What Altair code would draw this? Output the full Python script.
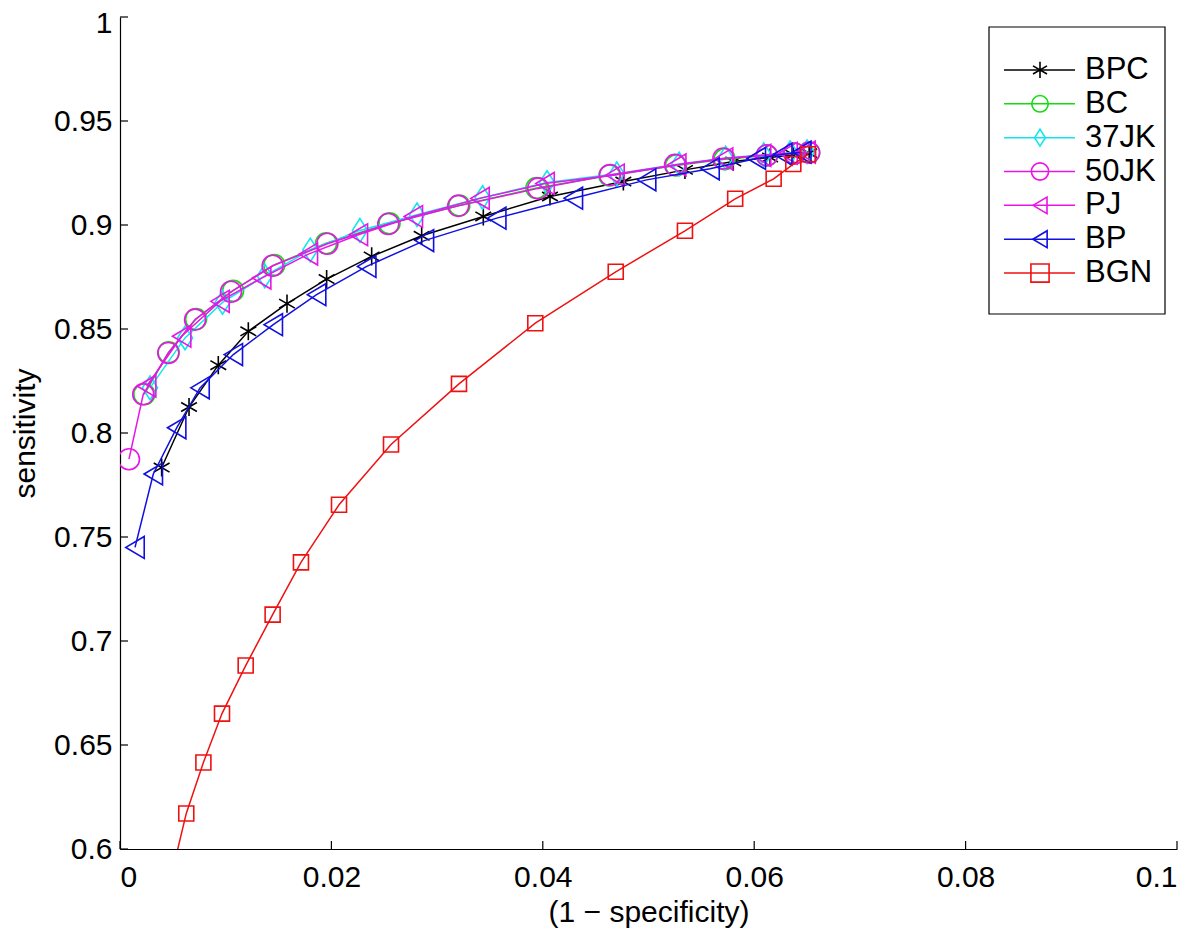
import altair as alt
import pandas as pd

FONT = "Liberation Sans"

# ---------------- data ----------------
series_names = ["BPC", "BC", "37JK", "50JK", "PJ", "BP", "BGN"]
series_colors = ["#000000", "#11dd11", "#11e6ee", "#e616e6", "#e616e6", "#1010e0", "#ee1111"]

bpc_x = [0.00394, 0.00653, 0.0093, 0.01214, 0.0158, 0.01955, 0.02381, 0.02854, 0.03437,
         0.04068, 0.04762, 0.05345, 0.05802, 0.0615, 0.0637, 0.0652]
bpc_y = [0.7834, 0.8125, 0.8326, 0.8489, 0.8622, 0.874, 0.8849, 0.8948, 0.9041,
         0.9137, 0.9209, 0.9265, 0.9305, 0.9325, 0.9338, 0.9345]

bc_x = [0.0023, 0.0046, 0.0072, 0.0107, 0.0146, 0.0195, 0.0255, 0.0321, 0.0394,
        0.0463, 0.0526, 0.0572, 0.0612, 0.0638, 0.0652]
bc_y = [0.8186, 0.8388, 0.8548, 0.8684, 0.8808, 0.8912, 0.9008, 0.9094, 0.9178,
        0.9238, 0.9286, 0.9316, 0.9334, 0.9344, 0.9348]

jk37_x = [0.00284, 0.00615, 0.0097, 0.0137, 0.018, 0.0227, 0.0281, 0.0343, 0.0404,
          0.0470, 0.0529, 0.0573, 0.0609, 0.0634, 0.0650]
jk37_y = [0.8217, 0.8457, 0.8628, 0.8755, 0.888, 0.8974, 0.9049, 0.9132, 0.9204,
          0.9246, 0.9293, 0.9322, 0.9338, 0.9347, 0.9352]

jk50_x = [0.00085, 0.0022, 0.00457, 0.0071, 0.0105, 0.01444, 0.01962, 0.02538, 0.032,
          0.03957, 0.04636, 0.05251, 0.05708, 0.0612, 0.0638, 0.0652]
jk50_y = [0.7874, 0.8186, 0.8385, 0.8545, 0.8679, 0.8804, 0.891, 0.9005, 0.9092,
          0.9176, 0.924, 0.9289, 0.932, 0.9335, 0.9344, 0.9348]

pj_x = [0.00252, 0.00583, 0.00946, 0.0134, 0.01782, 0.02255, 0.02775, 0.03406, 0.04021,
        0.04683, 0.05267, 0.0571, 0.0607, 0.0632, 0.0649]
pj_y = [0.8225, 0.8465, 0.8633, 0.8745, 0.886, 0.8953, 0.9041, 0.9128, 0.92,
        0.924, 0.9289, 0.9318, 0.9335, 0.9345, 0.935]

bp_x = [0.00142, 0.00315, 0.00536, 0.00757, 0.01072, 0.0145, 0.0186, 0.02334, 0.0288,
        0.03564, 0.04289, 0.04982, 0.05582, 0.0602, 0.0627, 0.0645]
bp_y = [0.745, 0.7803, 0.8025, 0.8217, 0.8377, 0.8521, 0.8665, 0.8801, 0.8925,
        0.9033, 0.9129, 0.9217, 0.927, 0.932, 0.934, 0.935]

bgn_x = [0.0051, 0.00627, 0.00789, 0.00965, 0.01189, 0.01444, 0.01712, 0.02072, 0.02564,
         0.03207, 0.03929, 0.0469, 0.05345, 0.0582, 0.06184, 0.0637, 0.0651]
bgn_y = [0.5923, 0.6171, 0.6416, 0.6651, 0.6882, 0.7127, 0.7378, 0.7655, 0.7945,
         0.8236, 0.8528, 0.8775, 0.8972, 0.9126, 0.9222, 0.9293, 0.934]

x_ticks = [0, 0.02, 0.04, 0.06, 0.08, 0.1]
y_ticks = [0.6, 0.65, 0.7, 0.75, 0.8, 0.85, 0.9, 0.95, 1.0]

series_x = [bpc_x, bc_x, jk37_x, jk50_x, pj_x, bp_x, bgn_x]
series_y = [bpc_y, bc_y, jk37_y, jk50_y, pj_y, bp_y, bgn_y]

# ---------------- styles ----------------
ASTER = "M0,-1L0,1M-0.87,-0.5L0.87,0.5M-0.87,0.5L0.87,-0.5"
DIAM = "M0,-1L0.64,0L0,1L-0.64,0Z"
TRI_L = "M-0.8,0L0.8,-0.95L0.8,0.95Z"
shapes = [ASTER, "circle", DIAM, "circle", TRI_L, TRI_L, "square"]
sizes = [330, 440, 560, 440, 530, 530, 225]
legend_sizes = [260, 330, 440, 330, 420, 420, 190]

W, H = 1057, 832

rows = []
for name, xs_, ys_ in zip(series_names, series_x, series_y):
    for i, (a, b) in enumerate(zip(xs_, ys_)):
        rows.append({"series": name, "i": i, "x": a, "y": b})
df = pd.DataFrame(rows)

x_enc = alt.X("x:Q", scale=alt.Scale(domain=[0, 0.1], nice=False, zero=False),
              axis=alt.Axis(values=x_ticks, format="~g", title="(1 − specificity)",
                            labelPadding=13, titleY=63, titleBaseline="middle"))
y_enc = alt.Y("y:Q", scale=alt.Scale(domain=[0.6, 1.0], nice=False, zero=False),
              axis=alt.Axis(values=y_ticks, format="~g", title="sensitivity",
                            labelPadding=8,
                            labelOffset={"condition": {"test": "datum.value >= 1", "value": 6}, "value": 0},
                            titleX=-95, titleY=H / 2, titleAngle=270,
                            titleAlign="center", titleBaseline="middle"))

layers = []
for name, col, shp, sz in zip(series_names, series_colors, shapes, sizes):
    base = alt.Chart(df).transform_filter(alt.datum.series == name)
    layers.append(base.mark_line(color=col, strokeWidth=1.5, clip=True).encode(
        x=x_enc, y=y_enc, order=alt.Order("i:Q")))
    layers.append(base.mark_point(shape=shp, size=sz, filled=False, color=col,
                                  strokeWidth=1.6, opacity=1, clip=True).encode(x=x_enc, y=y_enc))

# inward tick marks
xt = alt.Chart(pd.DataFrame({"x": x_ticks})).mark_rule(color="black", strokeWidth=1.2).encode(
    x=x_enc, y=alt.value(H), y2=alt.value(H - 8))
yt = alt.Chart(pd.DataFrame({"y": y_ticks})).mark_rule(color="black", strokeWidth=1.2).encode(
    y=y_enc, x=alt.value(0), x2=alt.value(8))
layers += [xt, yt]

main = alt.layer(*layers)

# ---------------- legend ----------------
leg_df = pd.DataFrame({"name": series_names})
ly = alt.Y("name:N", scale=alt.Scale(domain=series_names, range=[36, 273], padding=0), axis=None)
lc = alt.Color("name:N", scale=alt.Scale(domain=series_names, range=series_colors), legend=None)
box = alt.Chart(pd.DataFrame({"a": [0]})).mark_rect(fill="white", stroke="black", strokeWidth=1.2).encode(
    x=alt.value(869), x2=alt.value(1045), y=alt.value(10), y2=alt.value(297))
lline = alt.Chart(leg_df).mark_rule(strokeWidth=1.5).encode(
    x=alt.value(884), x2=alt.value(955), y=ly, color=lc)
lpts = alt.Chart(leg_df).mark_point(filled=False, strokeWidth=1.6, opacity=1).encode(
    x=alt.value(920), y=ly, color=lc,
    shape=alt.Shape("name:N", scale=alt.Scale(domain=series_names, range=shapes), legend=None),
    size=alt.Size("name:N", scale=alt.Scale(domain=series_names, range=legend_sizes), legend=None))
ltxt = alt.Chart(leg_df).mark_text(align="left", baseline="middle", fontSize=31, font=FONT, color="black").encode(
    x=alt.value(965), y=ly, text="name:N")
legend = alt.layer(box, lline, lpts, ltxt)

chart = alt.layer(main, legend).resolve_scale(y="independent").properties(
    width=W, height=H,
    autosize=alt.AutoSizeParams(type="none"),
    padding={"left": 112, "top": 9, "right": 15, "bottom": 79},
).configure_view(stroke=None).configure_axis(
    grid=False, ticks=False, domainColor="black", domainWidth=1.2,
    labelFont=FONT, labelFontSize=30, labelColor="black",
    titleFont=FONT, titleFontSize=30, titleFontWeight="normal", titleColor="black",
)

chart.save("out.html", embed_options={"renderer": "svg", "actions": False})
